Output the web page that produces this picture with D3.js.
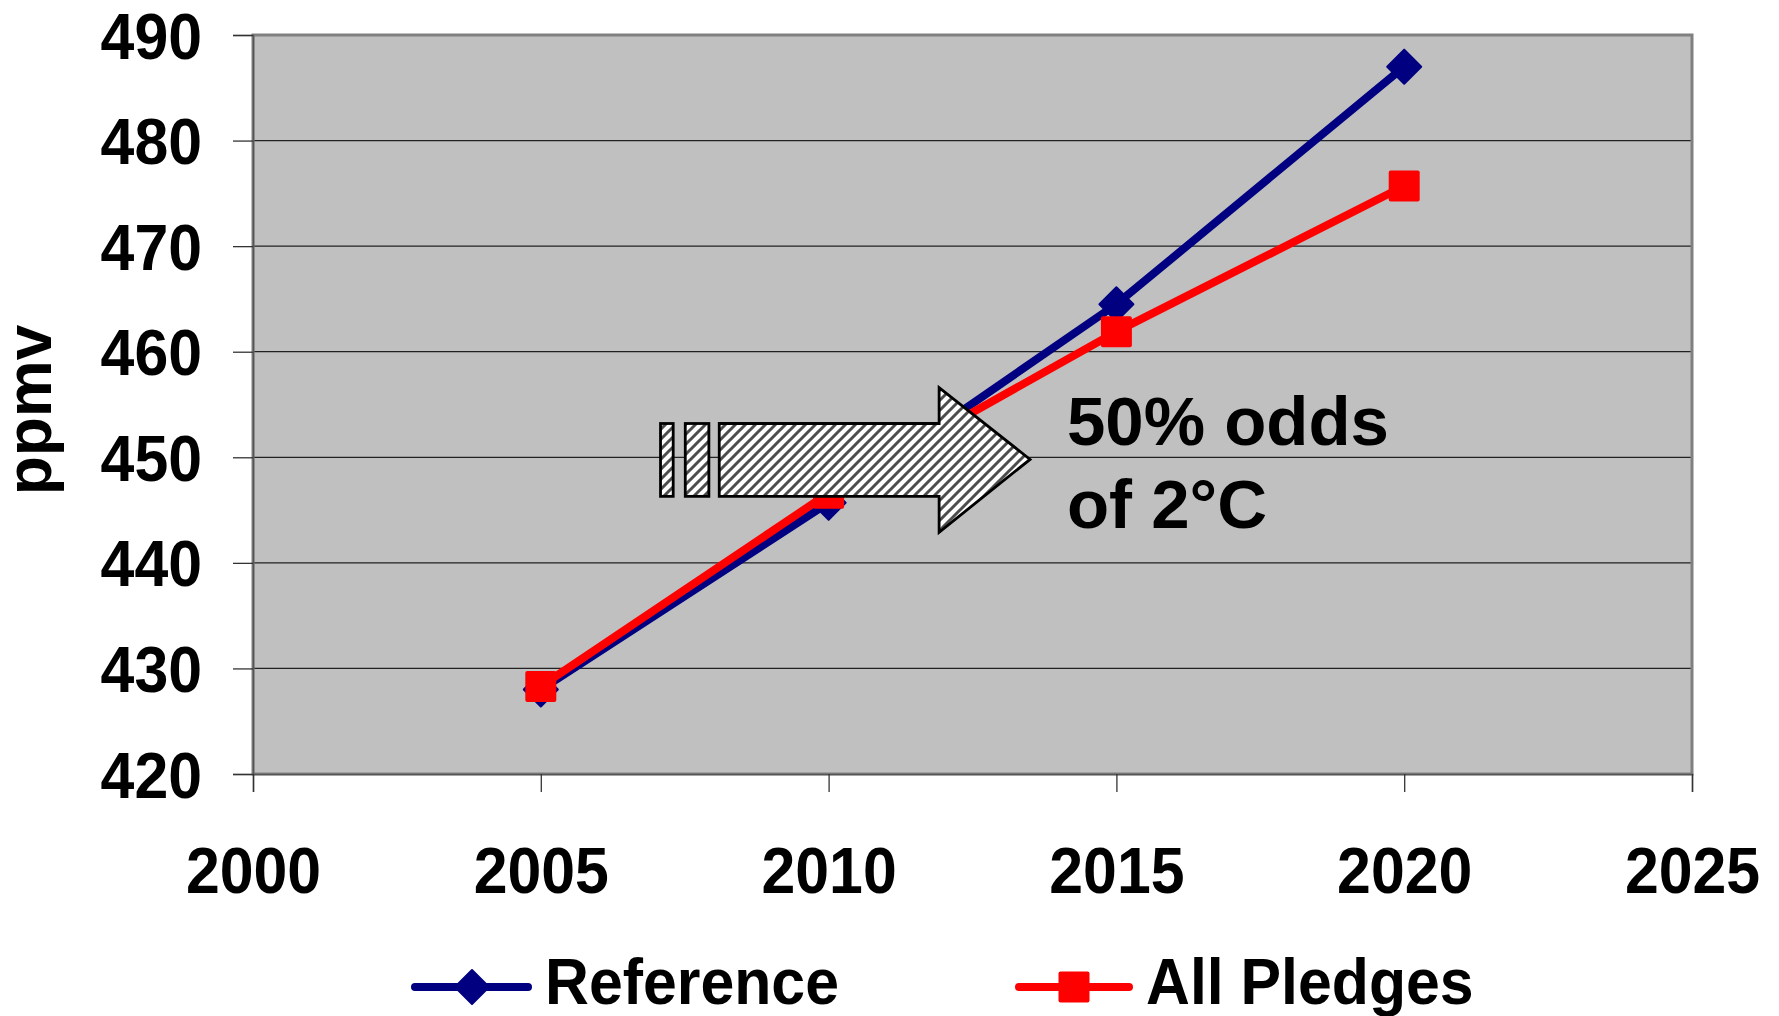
<!DOCTYPE html>
<html>
<head>
<meta charset="utf-8">
<script src="https://cdn.jsdelivr.net/npm/d3@7"></script>
<style>
  html, body { margin: 0; padding: 0; background: #fff; }
  svg { display: block; font-family: "Liberation Sans", Arial, sans-serif; font-weight: bold; }
</style>
</head>
<body>
<svg id="chart" width="1779" height="1016"></svg>
<script>
// ---- data ----
const years = [2005, 2010, 2015, 2020];
const referenceValues = [428.0, 445.7, 464.5, 487.0];
const pledgeValues = [428.3, 446.6, 461.9, 475.7];
const seriesNames = ["Reference", "All Pledges"];
const xTicks = [2000, 2005, 2010, 2015, 2020, 2025];
const yTicks = [420, 430, 440, 450, 460, 470, 480, 490];
const yLabel = "ppmv";
const noteLines = ["50% odds", "of 2°C"];

// ---- layout ----
const svg = d3.select("#chart");
const plot = { left: 253, right: 1692, top: 35, bottom: 774 };
const x = d3.scaleLinear().domain([2000, 2025]).range([plot.left, plot.right]);
const y = d3.scaleLinear().domain([420, 490]).range([plot.bottom, plot.top]);

const navy = "#000080", red = "#ff0000";

// hatch pattern
const defs = svg.append("defs");
const pat = defs.append("pattern").attr("id", "hatch")
  .attr("patternUnits", "userSpaceOnUse").attr("width", 10).attr("height", 10);
pat.append("rect").attr("width", 10).attr("height", 10).attr("fill", "#fff");
pat.append("path").attr("d", "M-2,2 l4,-4 M0,10 l10,-10 M8,12 l4,-4")
  .attr("stroke", "#4d4d4d").attr("stroke-width", 3);

// plot background
svg.append("rect")
  .attr("x", plot.left).attr("y", plot.top)
  .attr("width", plot.right - plot.left).attr("height", plot.bottom - plot.top)
  .attr("fill", "#c0c0c0");

// gridlines
svg.append("g").selectAll("line")
  .data(yTicks.filter(v => v > 420 && v < 490))
  .join("line")
  .attr("x1", plot.left).attr("x2", plot.right)
  .attr("y1", d => y(d)).attr("y2", d => y(d))
  .attr("stroke", "#222").attr("stroke-width", 1.2);

// frame
svg.append("rect")
  .attr("x", plot.left).attr("y", plot.top)
  .attr("width", plot.right - plot.left).attr("height", plot.bottom - plot.top)
  .attr("fill", "none").attr("stroke", "#808080").attr("stroke-width", 3);

// axes
const condense = 0.95;
const yAxis = svg.append("g")
  .attr("transform", `translate(${plot.left},0)`)
  .call(d3.axisLeft(y).tickValues(yTicks).tickSize(20).tickPadding(31).tickFormat(d3.format("d")));
yAxis.select(".domain").attr("stroke", "#555").attr("stroke-width", 1.5);
yAxis.selectAll(".tick line").attr("stroke", "#333").attr("stroke-width", 1.3);
yAxis.selectAll(".tick text")
  .attr("font-size", 64).attr("font-weight", "bold").attr("fill", "#000")
  .attr("font-family", "'Liberation Sans', Arial, sans-serif")
  .attr("x", -51 / condense).attr("dy", "0.36em")
  .attr("transform", `scale(${condense},1)`);

const xAxis = svg.append("g")
  .attr("transform", `translate(0,${plot.bottom})`)
  .call(d3.axisBottom(x).tickValues(xTicks).tickSize(18).tickFormat(d3.format("d")));
xAxis.select(".domain").attr("stroke", "#555").attr("stroke-width", 1.5);
xAxis.selectAll(".tick line").attr("stroke", "#333").attr("stroke-width", 1.3);
xAxis.selectAll(".tick text")
  .attr("font-size", 64).attr("font-weight", "bold").attr("fill", "#000")
  .attr("font-family", "'Liberation Sans', Arial, sans-serif")
  .attr("y", 119).attr("dy", 0)
  .attr("transform", `scale(${condense},1)`);

// y label
svg.append("text")
  .attr("transform", "translate(51,410) rotate(-90)")
  .attr("text-anchor", "middle")
  .attr("font-size", 64)
  .text(yLabel);

// series
const diamond = "M0,-17L17,0L0,17L-17,0Z";
const line = d3.line().x(d => x(d[0])).y(d => y(d[1]));
const refData = years.map((yr, i) => [yr, referenceValues[i]]);
const pleData = years.map((yr, i) => [yr, pledgeValues[i]]);

svg.append("path").datum(refData).attr("d", line)
  .attr("fill", "none").attr("stroke", navy).attr("stroke-width", 8).attr("stroke-linejoin", "round");
svg.append("g").selectAll("path").data(refData).join("path")
  .attr("d", diamond)
  .attr("transform", d => `translate(${x(d[0])},${y(d[1])})`)
  .attr("fill", navy).attr("stroke", navy).attr("stroke-width", 2).attr("stroke-linejoin", "round");

svg.append("path").datum(pleData).attr("d", line)
  .attr("fill", "none").attr("stroke", red).attr("stroke-width", 8).attr("stroke-linejoin", "round");
svg.append("g").selectAll("rect").data(pleData).join("rect")
  .attr("x", d => x(d[0]) - 15.5).attr("y", d => y(d[1]) - 15.5)
  .attr("width", 31).attr("height", 31).attr("rx", 2)
  .attr("fill", red);

// annotation arrow (in data units)
const arrowBody = [[2008.10, 453.2], [2011.92, 453.2], [2011.92, 456.6], [2013.50, 449.8],
                   [2011.92, 442.9], [2011.92, 446.3], [2008.10, 446.3]];
const arrowBars = [[2007.08, 2007.30], [2007.51, 2007.92]];
const arrowTop = 453.2, arrowBottom = 446.3;
const arrowG = svg.append("g");
arrowG.selectAll("rect").data(arrowBars).join("rect")
  .attr("x", d => x(d[0])).attr("width", d => x(d[1]) - x(d[0]))
  .attr("y", y(arrowTop)).attr("height", y(arrowBottom) - y(arrowTop))
  .attr("fill", "url(#hatch)").attr("stroke", "#000").attr("stroke-width", 2.8);
arrowG.append("path")
  .attr("d", d3.line().x(d => x(d[0])).y(d => y(d[1]))(arrowBody) + "Z")
  .attr("fill", "url(#hatch)").attr("stroke", "#000").attr("stroke-width", 2.8)
  .attr("stroke-linejoin", "miter");

// annotation text
const noteX = 2014.14, noteY = [451.2, 443.3];
svg.append("g").selectAll("text").data(noteLines).join("text")
  .attr("x", x(noteX)).attr("y", (d, i) => y(noteY[i]))
  .attr("font-size", 69)
  .text(d => d);

// legend
const legend = svg.append("g");
const legY = 987;
const legendItems = [
  { name: seriesNames[0], color: navy, x0: 415, x1: 528, cx: 472, tx: 545, marker: "diamond" },
  { name: seriesNames[1], color: red, x0: 1019, x1: 1129, cx: 1074, tx: 1146, marker: "square" }
];
legendItems.forEach(it => {
  legend.append("line").attr("x1", it.x0).attr("x2", it.x1).attr("y1", legY).attr("y2", legY)
    .attr("stroke", it.color).attr("stroke-width", 8).attr("stroke-linecap", "round");
  if (it.marker === "diamond") {
    legend.append("path").attr("d", diamond).attr("transform", `translate(${it.cx},${legY})`)
      .attr("fill", it.color).attr("stroke", it.color).attr("stroke-width", 2).attr("stroke-linejoin", "round");
  } else {
    legend.append("rect").attr("x", it.cx - 15.5).attr("y", legY - 15.5)
      .attr("width", 31).attr("height", 31).attr("rx", 2).attr("fill", it.color);
  }
  legend.append("text").attr("x", it.tx / condense).attr("y", 1004)
    .attr("transform", `scale(${condense},1)`)
    .attr("font-size", 64).text(it.name);
});
</script>
</body>
</html>
